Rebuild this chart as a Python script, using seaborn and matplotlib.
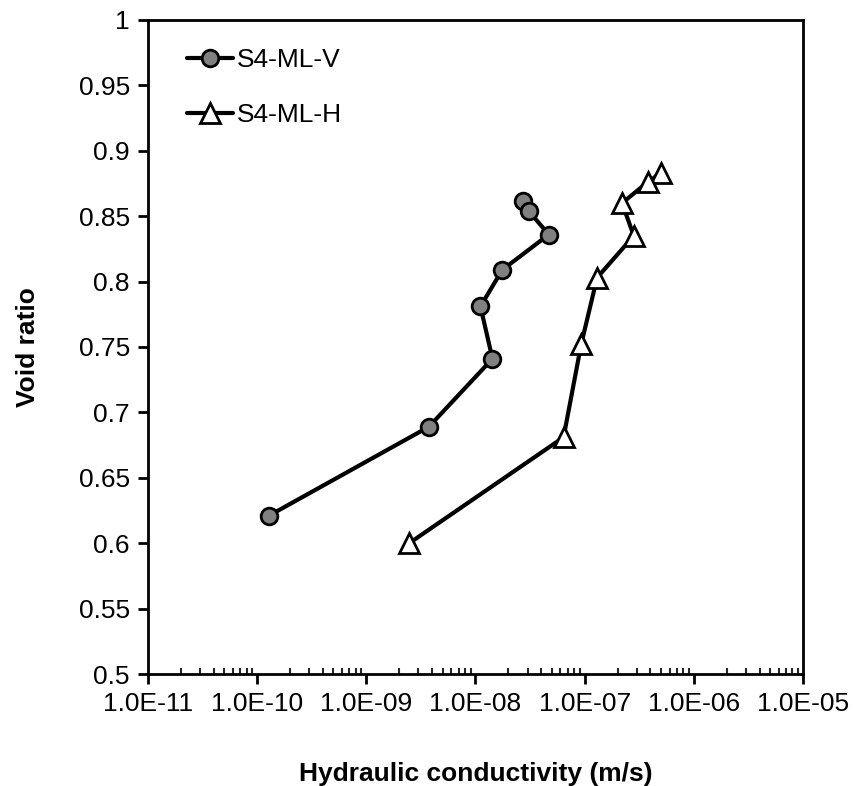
import numpy as np
import pandas as pd
import matplotlib
matplotlib.use("Agg")
import matplotlib.pyplot as plt
from matplotlib.ticker import LogLocator, FuncFormatter, FixedLocator, NullFormatter
import seaborn as sns

# Data
series_v_name = "S4-ML-V"
series_v_k = [2.74e-8, 3.06e-8, 4.70e-8, 1.76e-8, 1.11e-8, 1.43e-8, 3.74e-9, 1.28e-10]
series_v_e = [0.862, 0.854, 0.836, 0.809, 0.781, 0.741, 0.689, 0.621]

series_h_name = "S4-ML-H"
series_h_k = [4.99e-7, 3.77e-7, 2.20e-7, 2.82e-7, 1.30e-7, 9.29e-8, 6.41e-8, 2.47e-9]
series_h_e = [0.883, 0.876, 0.860, 0.835, 0.803, 0.752, 0.681, 0.600]

x_ticks = [1e-11, 1e-10, 1e-9, 1e-8, 1e-7, 1e-6, 1e-5]
y_ticks = [0.5, 0.55, 0.6, 0.65, 0.7, 0.75, 0.8, 0.85, 0.9, 0.95, 1.0]

sns.set_style("ticks")
plt.rcParams['font.family'] = ['Liberation Sans', 'DejaVu Sans']
plt.rcParams['text.color'] = 'black'
plt.rcParams['axes.labelcolor'] = 'black'

df_v = pd.DataFrame({"k": series_v_k, "e": series_v_e})
df_h = pd.DataFrame({"k": series_h_k, "e": series_h_e})

fig = plt.figure(figsize=(8.54, 7.86), dpi=100)
ax = fig.add_axes([148/854, 1-674/786, (803-148)/854, (674-20)/786])

fs = 19
sns.lineplot(data=df_v, x="k", y="e", sort=False, estimator=None, ax=ax,
             color="black", linewidth=3, marker="o", markersize=12,
             markerfacecolor="#808080", markeredgecolor="black", markeredgewidth=2,
             label=series_v_name)
sns.lineplot(data=df_h, x="k", y="e", sort=False, estimator=None, ax=ax,
             color="black", linewidth=3, marker="^", markersize=14,
             markerfacecolor="white", markeredgecolor="black", markeredgewidth=2,
             label=series_h_name)

ax.set_xscale("log")
ax.set_xlim(1e-11, 1e-5)
ax.set_ylim(0.5, 1.0)
ax.xaxis.set_major_locator(FixedLocator(x_ticks))
ax.xaxis.set_major_formatter(FuncFormatter(lambda v, p: f"{v:.1E}"))
ax.xaxis.set_minor_locator(LogLocator(base=10, subs=np.arange(2, 10)))
ax.xaxis.set_minor_formatter(NullFormatter())
ax.yaxis.set_major_locator(FixedLocator(y_ticks))
ax.yaxis.set_major_formatter(FuncFormatter(lambda v, p: f"{v:g}"))

for s in ax.spines.values():
    s.set_linewidth(2)
    s.set_color("black")
ax.tick_params(axis="both", which="major", direction="out", length=7, width=2,
               labelsize=fs, colors="black", pad=6)
ax.tick_params(axis="x", which="minor", direction="in", length=4, width=1.5)
ax.tick_params(axis="y", which="minor", left=False)
ax.tick_params(top=False, right=False, which="both")

ax.set_xlabel("Hydraulic conductivity (m/s)", fontsize=fs, fontweight="bold", labelpad=33)
ax.set_ylabel("Void ratio", fontsize=fs, fontweight="bold", labelpad=28)

leg = ax.legend(loc="upper left", bbox_to_anchor=(0.0595, 0.957), frameon=False,
                fontsize=fs, handlelength=1.75, handletextpad=0.15,
                labelspacing=1.18, borderpad=0, borderaxespad=0)
for t in leg.get_texts():
    t.set_color("black")

fig.savefig("out.png", dpi=100)
